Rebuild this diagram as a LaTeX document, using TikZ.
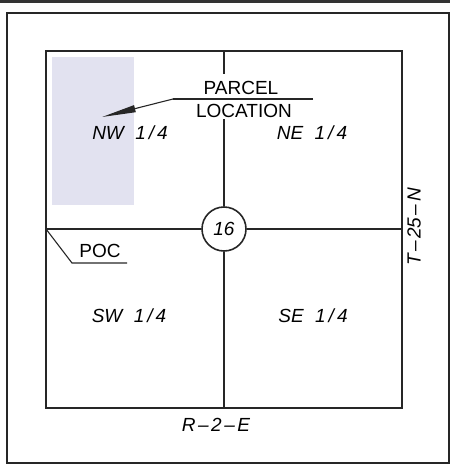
\documentclass[tikz,border=0pt]{standalone}
\usepackage{fontspec}
\setmainfont{Liberation Sans}
\usetikzlibrary{arrows.meta,positioning,calc}
\definecolor{parcel}{RGB}{226,226,240}
\newcommand{\rd}{\kern2.5pt--\kern2.5pt}
\newcommand{\qt}{\hspace{.6em}1\kern3pt/\kern3pt4}
\tikzset{lbl/.style={font=\fontsize{19}{22}\selectfont,inner sep=0pt},
 qtr/.style={font=\fontsize{19}{22}\selectfont\itshape,inner sep=0pt},
 sec/.style={draw=black!85,circle,minimum size=44pt,inner sep=0pt,line width=1.6pt,font=\fontsize{19}{22}\selectfont\itshape},
 wire/.style={line width=1.6pt,draw=black!85},
 lead/.style={line width=1.1pt,draw=black!85}}
\begin{document}
\begin{tikzpicture}[x=1pt,y=-1pt]
\useasboundingbox (0,0) rectangle (450,466);
\fill[black!80] (0,0) rectangle (450,3);
\draw[wire] (7,13) rectangle (449,463);
\fill[parcel] (52,57) rectangle (134,205);
% section square
\coordinate (nw) at (46,51); \coordinate (se) at (402,408);
\draw[wire] (nw) rectangle (se);
\coordinate (tm) at (224,51); \coordinate (bm) at (224,408);
\coordinate (lm) at (46,229); \coordinate (rm) at (402,229);
\node[sec](s16) at(224,229){16};
\node[lbl](pl) at(241,87.5){PARCEL};
\node[lbl](loc) at(244,110.5){LOCATION};
\draw[wire](tm)--([yshift=7pt]tm |- pl.north);
\draw[wire]([yshift=-2pt]tm |- loc.south)--(s16.north);
\draw[wire](s16.south)--(bm);
\draw[wire](lm)--(s16.west);
\draw[wire](s16.east)--(rm);
% leaders
\coordinate (ul) at (173,99); \coordinate (ur) at (313,99); \coordinate (tip) at (102,117);
\draw[lead](ur)--(ul);
\draw[lead,-{Triangle[length=34pt,width=7pt]}](ul)--(tip);
\node[lbl](poc) at(100,250.5){POC};
\coordinate (pa) at (72,263); \coordinate (pb) at (127,263);
\draw[lead](lm)--(pa)--(pb);
% quarters
\node[qtr](q1) at(130,133){NW\qt};
\node[qtr](q2) at(312,133){NE\qt};
\node[qtr](q3) at(129,316){SW\qt};
\node[qtr](q4) at(313,316){SE\qt};
\node[qtr,rotate=90](tw) at(414,227){T\rd25\rd N};
\node[qtr](rg) at(216,425){R\rd2\rd E};
\end{tikzpicture}
\end{document}
